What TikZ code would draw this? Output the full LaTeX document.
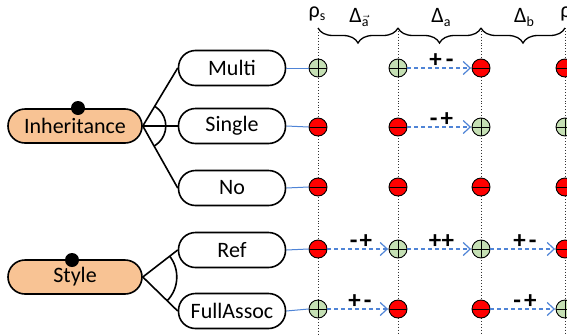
\documentclass[tikz,border=0pt]{standalone}
\usepackage{fontspec}
\setmainfont{Carlito}
\usetikzlibrary{arrows.meta,decorations.pathreplacing}

\definecolor{featfill}{HTML}{F8C394}
\definecolor{posfill}{HTML}{C5E0B4}
\definecolor{negfill}{HTML}{FF0000}
\definecolor{linkblue}{HTML}{4F84D6}

\tikzset{
  featbox/.style={draw=black, line width=1.6pt, fill=featfill, rounded corners=17pt,
    minimum width=134pt, minimum height=34pt, inner sep=0pt,
    font=\fontsize{22}{26}\selectfont},
  optbox/.style={draw=black, line width=1.6pt, fill=white, rounded corners=17pt,
    minimum width=107pt, minimum height=35pt, inner sep=0pt,
    font=\fontsize{22}{26}\selectfont},
  anchordot/.style={circle, fill=black, minimum size=14pt, inner sep=0pt},
  treeline/.style={draw=black, line width=1.6pt},
  posstate/.style={circle, draw=black, line width=0.9pt, fill=posfill, minimum size=18pt, inner sep=0pt,
    path picture={\draw[line width=0.9pt] (path picture bounding box.north) -- (path picture bounding box.south)
      (path picture bounding box.west) -- (path picture bounding box.east);}},
  negstate/.style={circle, draw=black, line width=0.9pt, fill=negfill, minimum size=18pt, inner sep=0pt,
    path picture={\draw[line width=0.9pt] (path picture bounding box.west) -- (path picture bounding box.east);}},
  feedline/.style={draw=linkblue, line width=1pt},
  changearrow/.style={draw=linkblue, line width=1.4pt, dash pattern=on 4pt off 3pt,
    -{Straight Barb[length=7pt,width=13pt,line width=1.2pt]}, shorten >=0.5pt},
  signlbl/.style={font=\fontsize{25}{27}\selectfont\bfseries, inner sep=0pt},
  headlbl/.style={font=\fontsize{22}{24}\selectfont, inner sep=0pt},
  guideline/.style={draw=black!80, line width=0.9pt, dotted},
  spanbrace/.style={draw=black, line width=1.3pt,
    decorate, decoration={brace, mirror, amplitude=15pt}},
}

\begin{document}
\begin{tikzpicture}[x=1pt, y=-1pt]
\useasboundingbox (0,0) rectangle (567,335);
\clip (0,0) rectangle (567,335);

% column guides
\foreach \cx/\nm/\ty in {318/ca/32, 398/cb/28, 481/cc/28, 565/cd/28} {
  \coordinate (\nm top) at (\cx,28);
  \coordinate (\nm start) at (\cx,\ty);
  \coordinate (\nm bot) at (\cx,335);
  \draw[guideline] (\nm start) -- (\nm bot);
}

% column headings
\node[headlbl, anchor=base] (rhoS) at (317,17) {ρ\raisebox{-0.3ex}{\fontsize{14}{14}\selectfont s}};
\node[headlbl, anchor=base] (dAvec) at (359,22) {Δ\raisebox{-0.4ex}{\fontsize{14}{14}\selectfont$\vec{\textnormal{a}}$}};
\node[headlbl, anchor=base] (dA) at (441,22) {Δ\raisebox{-0.4ex}{\fontsize{14}{14}\selectfont a}};
\node[headlbl, anchor=base] (dB) at (524,22) {Δ\raisebox{-0.4ex}{\fontsize{14}{14}\selectfont b}};
\node[headlbl, anchor=base] (rhoE) at (566,17) {ρ};

% braces between columns
\draw[spanbrace] (catop) -- (cbtop);
\draw[spanbrace] (cbtop) -- (cctop);
\draw[spanbrace] (cctop) -- (cdtop);

% feature boxes
\node[featbox] (inh) at (75,126) {Inheritance};
\node[featbox] (sty) at (75,277) {Style};
\node[anchordot] (inhdot) at (78,108) {};
\node[anchordot] (stydot) at (72,260) {};

% option boxes
\node[optbox] (multi) at (232,68) {Multi};
\node[optbox] (single) at (232,126) {Single};
\node[optbox] (no) at (232,188) {No};
\node[optbox] (ref) at (232,250) {Ref};
\node[optbox] (full) at (232,311) {FullAssoc};

% tree edges
\draw[treeline] (inh.east) -- (multi.west);
\draw[treeline] (inh.east) -- (single.west);
\draw[treeline] (inh.east) -- (no.west);
\draw[treeline] (sty.east) -- (ref.west);
\draw[treeline] (sty.east) -- (full.west);

% group arcs
\begin{scope}
  \clip (inh.east) -- (multi.west) -- (no.west) -- cycle;
  \draw[treeline] (inh.east) circle[radius=23pt];
\end{scope}
\begin{scope}
  \clip (sty.east) -- (ref.west) -- (full.west) -- cycle;
  \draw[treeline] (sty.east) circle[radius=34pt];
\end{scope}

% states per option and column
\node[posstate] (m1) at (318,68) {};
\node[posstate] (m2) at (398,68) {};
\node[negstate] (m3) at (481,68) {};
\node[negstate] (m4) at (565,68) {};

\node[negstate] (s1) at (318,127) {};
\node[negstate] (s2) at (398,127) {};
\node[posstate] (s3) at (481,127) {};
\node[posstate] (s4) at (565,127) {};

\node[negstate] (n1) at (318,187) {};
\node[negstate] (n2) at (398,187) {};
\node[negstate] (n3) at (481,187) {};
\node[negstate] (n4) at (565,187) {};

\node[negstate] (r1) at (318,249) {};
\node[posstate] (r2) at (398,249) {};
\node[posstate] (r3) at (481,249) {};
\node[negstate] (r4) at (565,249) {};

\node[posstate] (f1) at (318,309) {};
\node[negstate] (f2) at (398,309) {};
\node[negstate] (f3) at (481,309) {};
\node[posstate] (f4) at (565,309) {};

% feeds from options into the first column
\draw[feedline] (multi.east) -- (m1.west);
\draw[feedline] (single.east) -- (s1.west);
\draw[feedline] (no.east) -- (n1.west);
\draw[feedline] (ref.east) -- (r1.west);
\draw[feedline] (full.east) -- (f1.west);

% changes between columns
\draw[changearrow] (m2.east) -- node[signlbl, above=0pt, xshift=2pt] {+\kern4pt-} (m3.west);
\draw[changearrow] (s2.east) -- node[signlbl, above=0pt, xshift=2pt] {-\kern3pt+} (s3.west);
\draw[changearrow] (r1.east) -- node[signlbl, above=0pt, xshift=3pt] {-\kern2pt+} (r2.west);
\draw[changearrow] (r2.east) -- node[signlbl, above=0pt, xshift=2pt] {++} (r3.west);
\draw[changearrow] (r3.east) -- node[signlbl, above=0pt, xshift=2pt] {+\kern3pt-} (r4.west);
\draw[changearrow] (f1.east) -- node[signlbl, above=0pt, xshift=2pt] {+\kern3pt-} (f2.west);
\draw[changearrow] (f3.east) -- node[signlbl, above=0pt, xshift=2pt] {-\kern3pt+} (f4.west);
\end{tikzpicture}
\end{document}
